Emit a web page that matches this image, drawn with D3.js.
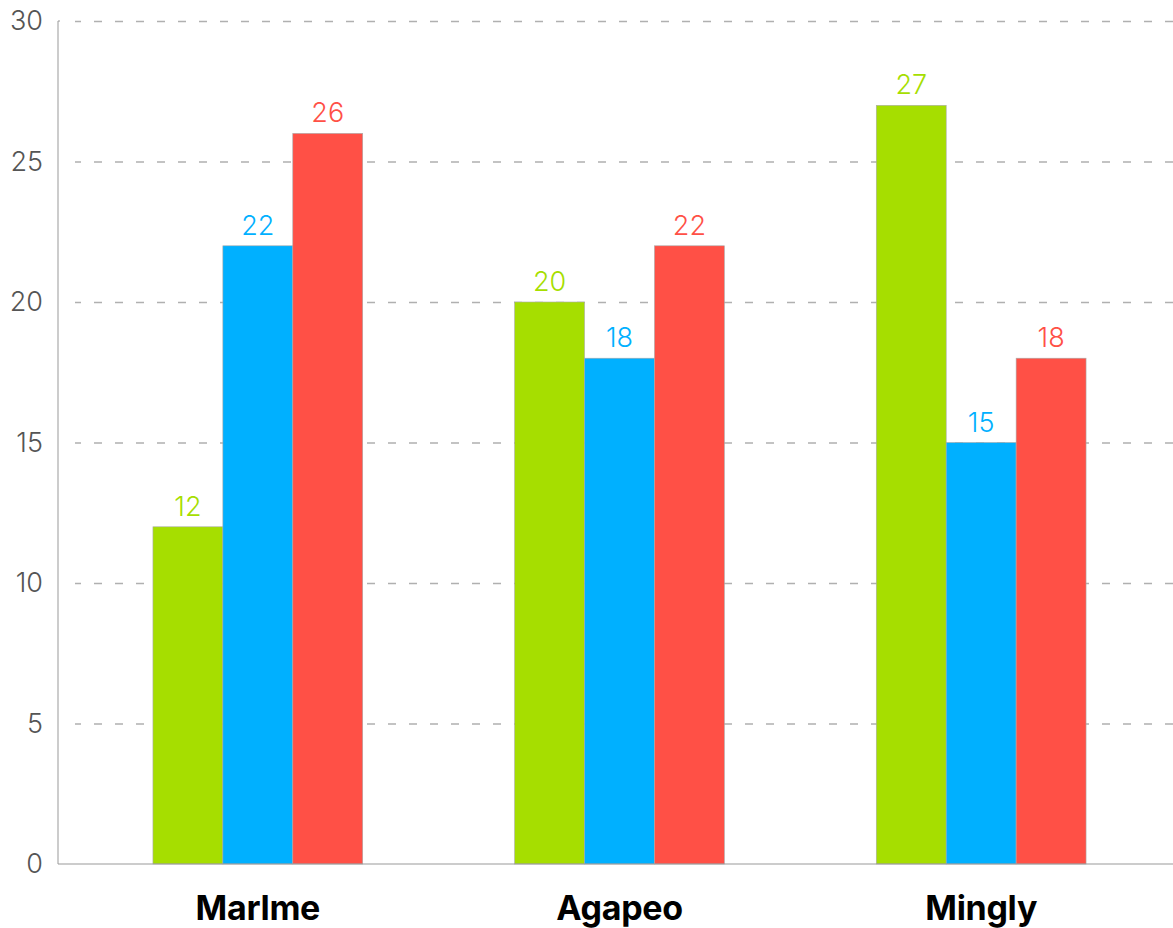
<!DOCTYPE html>
<meta charset="utf-8">
<style>
body { margin: 0; background: #fff; }
.grid line { stroke: #b0b0b0; stroke-width: 1.5px; stroke-dasharray: 8,13; }
.grid path { display: none; }
.axis text { font: 300 27px Inter, sans-serif; fill: #555; }
.axis path, .axis line { stroke: #999; }
.cat text { font: 700 34px Inter, sans-serif; fill: #000; letter-spacing: -0.3px; }
.val { font: 300 27px Inter, sans-serif; text-anchor: middle; }
</style>
<body>
<svg width="1173" height="928"></svg>
<script src="https://d3js.org/d3.v7.min.js"></script>
<script>
var categories = ["Marlme", "Agapeo", "Mingly"];
var seriesNames = ["A", "B", "C"];
var seriesA = [12, 20, 27];
var seriesB = [22, 18, 15];
var seriesC = [26, 22, 18];
var colors = ["#a6de00", "#00b0ff", "#ff5046"];
var yTicks = [0, 5, 10, 15, 20, 25, 30];

var svg = d3.select("svg");
var mLeft = 58, mRight = 1173, mTop = 21, mBottom = 864;

var x = d3.scaleBand().domain(categories).range([77, 1162]).paddingInner(0.42).paddingOuter(0.21);
var xs = d3.scaleBand().domain(seriesNames).range([0, x.bandwidth()]);
var y = d3.scaleLinear().domain([0, 30]).range([mBottom, mTop]);

// dashed gridlines
svg.append("g")
    .attr("class", "grid")
    .attr("transform", "translate(" + mRight + ",0)")
    .call(d3.axisLeft(y).tickValues(yTicks.slice(1)).tickSize(mRight - 75).tickFormat(""));

// y axis
var ya = svg.append("g")
    .attr("class", "axis")
    .attr("transform", "translate(" + mLeft + ",0)")
    .call(d3.axisLeft(y).tickValues(yTicks).tickSize(0).tickPadding(15));
ya.select(".domain").attr("d", "M2," + mTop + "H0V" + mBottom);

var rows = categories.map(function(c, i) {
  return { cat: c, vals: [seriesA[i], seriesB[i], seriesC[i]] };
});

var groups = svg.selectAll(".group")
    .data(rows)
  .enter().append("g")
    .attr("transform", function(d) { return "translate(" + x(d.cat) + ",0)"; });

groups.selectAll("rect")
    .data(function(d) { return d.vals; })
  .enter().append("rect")
    .attr("x", function(d, i) { return xs(seriesNames[i]); })
    .attr("y", function(d) { return y(d); })
    .attr("width", xs.bandwidth())
    .attr("height", function(d) { return mBottom - y(d); })
    .attr("fill", function(d, i) { return colors[i]; })
    .attr("stroke", "#aaa")
    .attr("stroke-width", 0.6);

groups.selectAll(".val")
    .data(function(d) { return d.vals; })
  .enter().append("text")
    .attr("class", "val")
    .attr("x", function(d, i) { return xs(seriesNames[i]) + xs.bandwidth() / 2; })
    .attr("y", function(d) { return y(d) - 11; })
    .attr("fill", function(d, i) { return colors[i]; })
    .text(function(d) { return d; });

// x axis
svg.append("line")
    .attr("x1", mLeft).attr("x2", mRight)
    .attr("y1", mBottom).attr("y2", mBottom)
    .attr("stroke", "#999").attr("stroke-width", 1.2);

var xa = svg.append("g")
    .attr("class", "cat")
    .attr("transform", "translate(0," + mBottom + ")")
    .call(d3.axisBottom(x).tickSize(0).tickPadding(32));
xa.select(".domain").remove();
</script>
